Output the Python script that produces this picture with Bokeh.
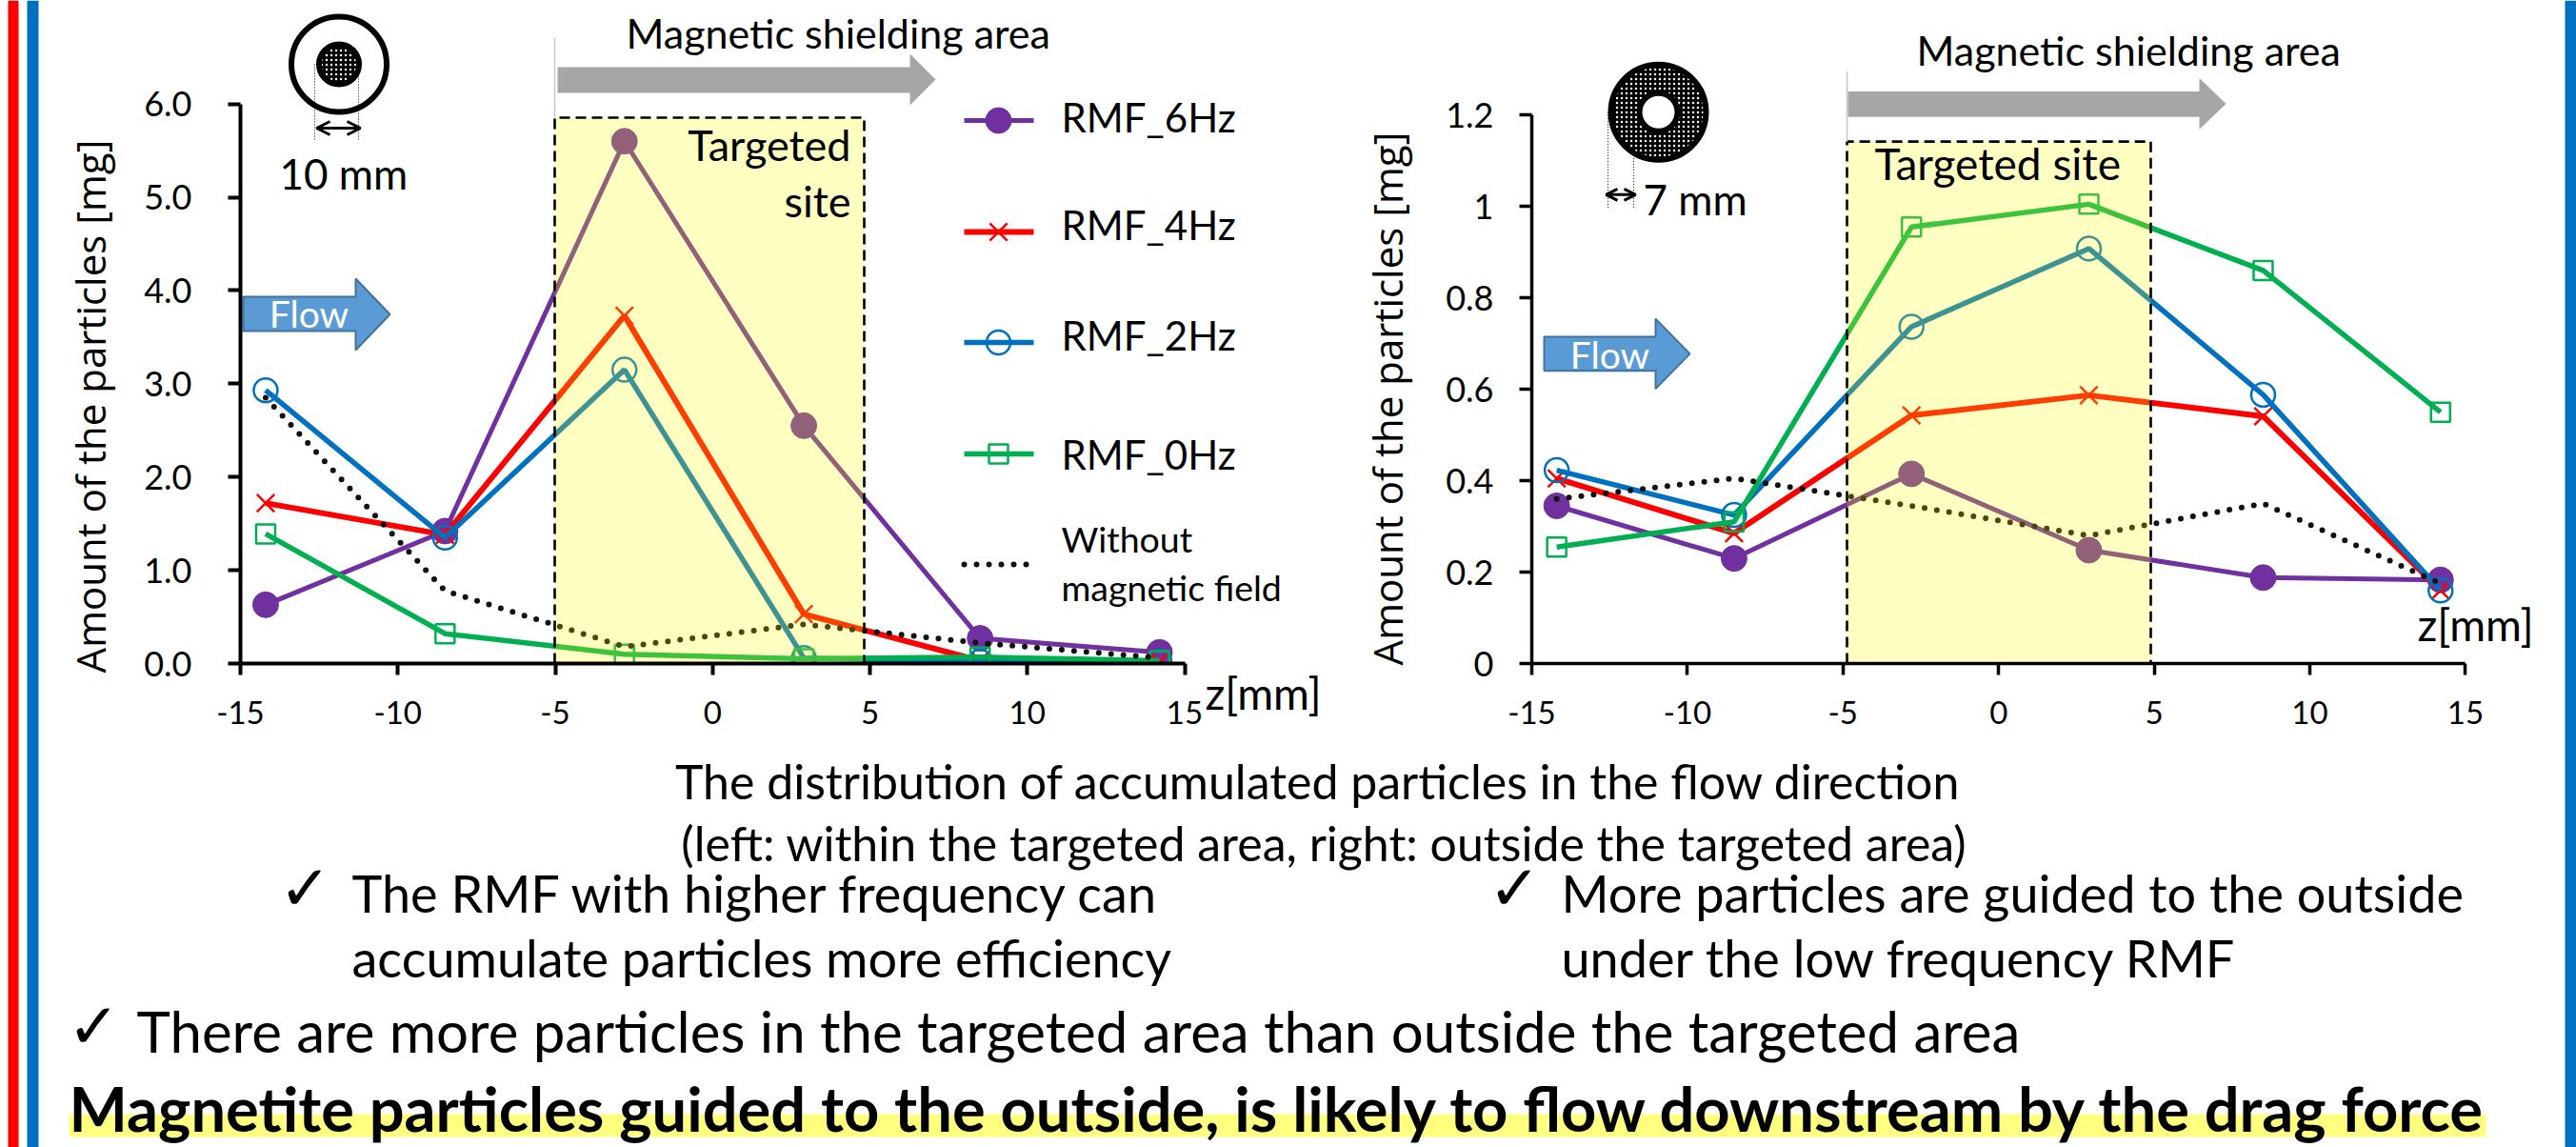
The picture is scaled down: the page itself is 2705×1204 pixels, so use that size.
from math import pi
from bokeh.plotting import figure
from bokeh.layouts import column, row
from bokeh.models import Label, Arrow, OpenHead, FixedTicker, Range1d
from bokeh.embed import file_html
from bokeh.resources import INLINE

# ---------- data ----------
z_mm = [-14.2, -8.5, -2.8, 2.9, 8.5, 14.2]
left_rmf_6hz = [0.63, 1.42, 5.60, 2.55, 0.27, 0.12]
left_rmf_4hz = [1.72, 1.38, 3.73, 0.53, 0.03, 0.02]
left_rmf_2hz = [2.93, 1.35, 3.15, 0.06, 0.02, 0.02]
left_rmf_0hz = [1.39, 0.32, 0.10, 0.05, 0.07, 0.03]
left_none = [2.85, 0.78, 0.18, 0.42, 0.22, 0.06]
right_rmf_6hz = [0.345, 0.23, 0.415, 0.248, 0.188, 0.183]
right_rmf_4hz = [0.405, 0.285, 0.543, 0.587, 0.541, 0.16]
right_rmf_2hz = [0.423, 0.325, 0.737, 0.908, 0.588, 0.16]
right_rmf_0hz = [0.255, 0.31, 0.955, 1.005, 0.86, 0.55]
right_none = [0.36, 0.405, 0.345, 0.28, 0.35, 0.175]
x_ticks = [-15, -10, -5, 0, 5, 10, 15]
x_labels = ["-15", "-10", "-5", "0", "5", "10", "15"]
left_y_ticks = [0, 1, 2, 3, 4, 5, 6]
left_y_labels = ["0.0", "1.0", "2.0", "3.0", "4.0", "5.0", "6.0"]
right_y_ticks = [0, 0.2, 0.4, 0.6, 0.8, 1, 1.2]
right_y_labels = ["0", "0.2", "0.4", "0.6", "0.8", "1", "1.2"]
series_names = ["RMF_6Hz", "RMF_4Hz", "RMF_2Hz", "RMF_0Hz"]

PURPLE, RED, BLUE, GREEN = "#7030A0", "#FF0000", "#0070C0", "#00B050"
FONT = "Lato"
PAGE_W, PAGE_H = 2705, 1204
TOP_H = 790
ROW_SPLIT = 1420


def make_chart(x0, x1, ax_x, px_per_x, ax_y, px_per_y, y_top, yticks, ylabels, axis_w):
    X = lambda px: -15 + (px - ax_x) / px_per_x
    Y = lambda py: (ax_y - py) / px_per_y
    p = figure(width=x1 - x0, height=TOP_H, output_backend="svg", toolbar_location=None,
               x_range=Range1d(X(ax_x), X(x1)), y_range=Range1d(Y(ax_y), Y(0)),
               min_border_left=ax_x - x0, min_border_right=0, min_border_top=0,
               min_border_bottom=TOP_H - ax_y,
               background_fill_color=None, border_fill_color="white", outline_line_color=None)
    p.grid.visible = False
    for ax, bnd in ((p.xaxis, (-15, 15)), (p.yaxis, (0, y_top))):
        ax.bounds = bnd
        ax.axis_line_color = "black"
        ax.axis_line_width = axis_w
        ax.major_tick_line_color = "black"
        ax.major_tick_line_width = axis_w
        ax.minor_tick_line_color = None
        ax.major_tick_in = 0
        ax.major_label_text_font = FONT
        ax.major_label_text_color = "black"
    p.xaxis.ticker = FixedTicker(ticks=x_ticks)
    p.xaxis.major_label_overrides = dict(zip(x_ticks, x_labels))
    p.xaxis.major_tick_out = 12
    p.xaxis.major_label_text_font_size = "33px"
    p.xaxis.major_label_standoff = 27
    p.yaxis.ticker = FixedTicker(ticks=yticks)
    p.yaxis.major_label_overrides = dict(zip(yticks, ylabels))
    p.yaxis.major_tick_out = 13
    p.yaxis.major_label_text_font_size = "36px"
    return p, X, Y


def add_series(p, s6, s4, s2, s0, none):
    p.line(z_mm, s6, line_color=PURPLE, line_width=5)
    p.scatter(z_mm, s6, marker="circle", size=27, fill_color=PURPLE, line_color=PURPLE)
    p.line(z_mm, s4, line_color=RED, line_width=6)
    p.scatter(z_mm, s4, marker="x", size=26, line_color=RED, line_width=2.5)
    p.line(z_mm, s2, line_color=BLUE, line_width=5.5)
    p.scatter(z_mm, s2, marker="circle", size=25, fill_color=None, line_color=BLUE, line_width=2.5)
    p.line(z_mm, s0, line_color=GREEN, line_width=5.5)
    p.scatter(z_mm, s0, marker="square", size=20, fill_color=None, line_color=GREEN, line_width=2.5)
    p.line(z_mm, none, line_color="#111111", line_width=6, line_dash="0 13", line_cap="round")


def txt(x, y, s, size=40, align="left", color="black", font=FONT, style="normal", angle=0):
    # y is the middle of the capitals; Lato's box middle lies a little above that
    yy = y if (angle or font != FONT) else y - 0.06 * size
    T.add_layout(Label(x=x, y=yy, text=s, text_font=font, text_font_size=f"{size}px",
                       text_align=align, text_baseline="middle", text_color=color,
                       text_font_style=style, angle=angle))


def arrow_shape(p, X, Y, xl, xb, xt, s0, s1, h0, h1, fill, line, lw=0):
    xs = [xl, xb, xb, xt, xb, xb, xl]
    ym = (h0 + h1) / 2
    ys = [s0, s0, h0, ym, h1, s1, s1]
    p.patch([X(v) for v in xs], [Y(v) for v in ys], fill_color=fill,
            line_color=line if lw else None, line_width=lw or 1)


def shade(p, X, Y, xl, xr, yt, yb):
    p.quad(left=[X(xl)], right=[X(xr)], top=[Y(yt)], bottom=[Y(yb)],
           fill_color="#FFFF00", fill_alpha=0.24, line_color=None)
    p.multi_line([[X(xl), X(xl), X(xr), X(xr)]], [[Y(yb), Y(yt), Y(yt), Y(yb)]],
                 line_color="black", line_width=2.6, line_dash="11 6")


# ---------- transparent sheet over the whole page: page text, side bars ----------
T = figure(width=PAGE_W, height=PAGE_H, output_backend="svg", toolbar_location=None,
           x_range=Range1d(0, PAGE_W), y_range=Range1d(PAGE_H, 0), min_border=0,
           x_axis_location=None, y_axis_location=None, outline_line_color=None,
           background_fill_color=None, border_fill_color=None, margin=(-TOP_H, 0, 0, 0))
T.grid.visible = False
for l, r, c in ((8, 19, RED), (28, 40, BLUE), (2693, 2705, BLUE)):
    T.quad(left=[l], right=[r], top=[0], bottom=[PAGE_H], fill_color=c, line_color=None)
T.quad(left=[72], right=[2610], top=[1169], bottom=[1193], fill_color="#FFFF80", line_color=None)

# ---------- left chart ----------
L, LX, LY = make_chart(0, ROW_SPLIT, 252, 33.05, 696, 97.9, 6, left_y_ticks, left_y_labels, 4)
L.yaxis.major_label_standoff = 38
add_series(L, left_rmf_6hz, left_rmf_4hz, left_rmf_2hz, left_rmf_0hz, left_none)
shade(L, LX, LY, 582, 907, 123, 696)
L.line([LX(582), LX(582)], [LY(39), LY(123)], line_color="#C8C8C8", line_width=1.5)
arrow_shape(L, LX, LY, 585, 955, 982, 70, 97, 56, 110, "#A6A6A6", None)
arrow_shape(L, LX, LY, 255, 373, 409, 311, 347, 292, 367, "#5B9BD5", "#41719C", 2)
txt(324, 331, "Flow", 39, "center", "white")
txt(657, 37, "Magnetic shielding area", 43)
txt(893, 154, "Targeted", 45, "right")
txt(893, 213, "site", 45, "right")
txt(293, 184, "10 mm", 44)
txt(1265, 730, "z[mm]", 46)
txt(94, 426, "Amount of the particles [mg]", 42, "center", font="Open Sans", angle=pi / 2)
L.scatter([LX(355.5)], [LY(67)], marker="circle", size=100, fill_color=None, line_color="black", line_width=6)
L.scatter([LX(355.5)], [LY(67)], marker="circle", size=42, fill_color="black", line_color="black",
          line_width=6, hatch_pattern="dot", hatch_color="white", hatch_scale=5, hatch_weight=2.5)
for vx in (330, 376):
    L.line([LX(vx), LX(vx)], [LY(67), LY(148)], line_color="black", line_width=1, line_dash="1 2")
L.add_layout(Arrow(x_start=LX(332), y_start=LY(134), x_end=LX(378), y_end=LY(134), line_width=3,
                   start=OpenHead(size=14, line_width=3), end=OpenHead(size=14, line_width=3)))
key_x0, key_x1, key_mid = LX(1012), LX(1085), LX(1048)
key_y = [126, 243, 359, 476]
text_y = [125, 238, 354, 479]
key_style = [(PURPLE, 5, "circle", PURPLE, 27, 1), (RED, 6, "x", None, 26, 2.5),
             (BLUE, 5.5, "circle", None, 25, 2.5), (GREEN, 5.5, "square", None, 20, 2.5)]
for name, ky, ty, st in zip(series_names, key_y, text_y, key_style):
    c, lw, m, f, sz, mlw = st
    L.line([key_x0, key_x1], [LY(ky), LY(ky)], line_color=c, line_width=lw)
    L.scatter([key_mid], [LY(ky)], marker=m, size=sz, fill_color=f, line_color=c, line_width=mlw)
    txt(1114, ty, name, 42)
L.line([key_x0, key_x1], [LY(592), LY(592)], line_color="#111111", line_width=6, line_dash="0 13", line_cap="round")
txt(1114, 567, "Without", 37.5)
txt(1114, 618, "magnetic field", 37.5)

# ---------- right chart ----------
R, RX, RY = make_chart(ROW_SPLIT, PAGE_W, 1608, 32.68, 700, 482.5, 1.2, right_y_ticks, right_y_labels, 3.5)
R.yaxis.major_label_standoff = 27
add_series(R, right_rmf_6hz, right_rmf_4hz, right_rmf_2hz, right_rmf_0hz, right_none)
shade(R, RX, RY, 1939, 2258, 149, 700)
R.line([RX(1939), RX(1939)], [RY(75), RY(149)], line_color="#C8C8C8", line_width=1.5)
arrow_shape(R, RX, RY, 1940, 2309, 2337, 96, 123, 82, 136, "#A6A6A6", None)
arrow_shape(R, RX, RY, 1621, 1738, 1774, 355, 391, 336, 410, "#5B9BD5", "#41719C", 2)
txt(1690, 374, "Flow", 39, "center", "white")
txt(2012, 55, "Magnetic shielding area", 43)
txt(1968, 174, "Targeted site", 46)
txt(1725, 211, "7 mm", 44)
txt(2538, 658, "z[mm]", 46)
txt(1456, 418, "Amount of the particles [mg]", 42, "center", font="Open Sans", angle=pi / 2)
R.scatter([RX(1741)], [RY(118)], marker="circle", size=100, fill_color="black", line_color="black",
          line_width=6, hatch_pattern="dot", hatch_color="white", hatch_scale=5, hatch_weight=2.5)
R.scatter([RX(1741)], [RY(118)], marker="circle", size=40, fill_color="white", line_color="black", line_width=6)
for vx in (1688, 1715):
    R.line([RX(vx), RX(vx)], [RY(118), RY(219)], line_color="black", line_width=1, line_dash="1 2")
R.add_layout(Arrow(x_start=RX(1686), y_start=RY(205), x_end=RX(1717), y_end=RY(205), line_width=3,
                   start=OpenHead(size=12, line_width=3), end=OpenHead(size=12, line_width=3)))

# ---------- text block ----------
txt(1390, 822, "The distribution of accumulated particles in the  flow direction", 50, "center")
txt(1390, 887, "(left: within the targeted area, right: outside the targeted area)", 50, "center")
txt(369, 940, "The RMF with higher frequency can", 54)
txt(369, 1008, "accumulate particles more efficiency", 54)
txt(1639, 940, "More particles are guided to the outside", 54)
txt(1639, 1008, "under the low frequency RMF", 54)
txt(143, 1085, "There are more particles in the targeted area than outside the targeted area", 60)
txt(72, 1166, "Magnetite particles guided to the outside, is likely to flow downstream by the drag force", 65, style="bold")
for cx, cy in ((320, 932), (1590, 932), (98, 1077)):
    txt(cx, cy, "\u2713", 66, "center", font="DejaVu Sans", style="bold")

page = column(row(L, R, spacing=0), T, spacing=0)
open("out.html", "w").write(file_html(page, INLINE))
